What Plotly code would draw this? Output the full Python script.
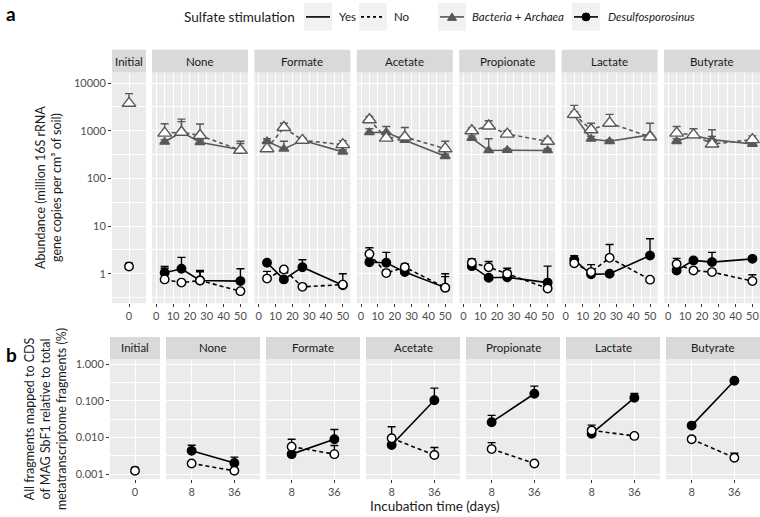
import plotly.graph_objects as go

W, H = 760, 517
FONT = "Lato"

treatments = ["None", "Formate", "Acetate", "Propionate", "Lactate", "Butyrate"]
days_a = [5, 15, 26, 50]
days_b = [8, 36]

# ---------- panel a: qPCR abundance (million 16S rRNA gene copies per cm3) ----------
initial_bac = 3760
initial_bac_up = 6000
initial_des = 1.42
initial_des_up = 1.66

bac_yes = [[580, 940, 570, 400], [600, 415, 630, 360], [920, 930, 630, 290],
           [700, 385, 390, 385], [2100, 670, 600, 820], [600, 795, 650, 525]]
bac_yes_up = [[650, 1750, 640, 540], [680, 600, 700, 400], [1100, 1230, 700, 320],
              [780, 680, 420, 420], [2500, 760, 650, 1440], [680, 1100, 760, 580]]
bac_no = [[890, 930, 795, 390], [420, 1170, 630, 510], [1700, 700, 740, 420],
          [1000, 1260, 850, 600], [2200, 1050, 1440, 740], [890, 820, 525, 650]]
bac_no_up = [[1400, 1550, 1380, 600], [470, 1440, 700, 620], [2000, 800, 1170, 600],
             [1150, 1620, 1000, 700], [3400, 1440, 2200, 820], [1230, 900, 1050, 780]]

des_yes = [[1.05, 1.27, 0.72, 0.70], [1.7, 0.76, 1.37, 0.57], [1.74, 1.7, 1.08, 0.51],
           [1.44, 0.82, 0.84, 0.65], [1.96, 0.97, 1.0, 2.4], [1.17, 1.9, 1.75, 2.05]]
des_yes_up = [[1.42, 2.2, 1.17, 1.27], [1.9, 0.85, 1.96, 0.62], [2.0, 2.8, 1.4, 1.0],
              [1.6, 0.9, 1.15, 1.44], [2.4, 1.05, 1.1, 5.4], [1.3, 2.1, 2.8, 2.2]]
des_no = [[0.76, 0.65, 0.72, 0.43], [0.79, 1.23, 0.53, 0.59], [2.6, 1.03, 1.37, 0.51],
          [1.7, 1.37, 1.0, 0.49], [1.66, 1.08, 2.15, 0.75], [1.6, 1.17, 1.08, 0.70]]
des_no_up = [[1.3, 0.7, 1.1, 0.47], [1.12, 1.35, 0.6, 1.0], [3.5, 1.2, 1.6, 0.87],
             [2.05, 1.8, 1.3, 0.55], [1.8, 1.55, 4.1, 0.8], [2.1, 1.3, 1.2, 0.95]]

# ---------- panel b: metatranscriptome fraction (%) ----------
initial_frac = 0.00123
initial_frac_up = 0.00152
frac_yes = [[0.0043, 0.0020], [0.0035, 0.0089], [0.0062, 0.103],
            [0.026, 0.155], [0.0126, 0.12], [0.021, 0.35]]
frac_yes_up = [[0.0061, 0.0029], [0.0040, 0.0165], [0.007, 0.22],
               [0.040, 0.25], [0.0216, 0.157], [0.023, 0.37]]
frac_no = [[0.00195, 0.00123], [0.0056, 0.0035], [0.0095, 0.0033],
           [0.0048, 0.00195], [0.0155, 0.011], [0.0089, 0.0028]]
frac_no_up = [[0.0021, 0.0013], [0.0089, 0.006], [0.0195, 0.0053],
              [0.0072, 0.0021], [0.018, 0.012], [0.0105, 0.0037]]

yticks_a = [1, 10, 100, 1000, 10000]
yticklabels_a = ["1", "10", "100", "1000", "10000"]
yticks_b = [0.001, 0.01, 0.1, 1]
yticklabels_b = ["0.001", "0.010", "0.100", "1.000"]
xticks_a = [0, 10, 20, 30, 40, 50]

GREY = "#595959"
BLACK = "#000000"
BG = "#ebebeb"
STRIP = "#d9d9d9"


def fx(x):
    return x / W


def fy(y):
    return 1 - y / H


fig = go.Figure()
layout = {}
shapes = []
annotations = []

# panel geometry in pixels
a_top, a_bot = 71, 303
a_strip = 48
b_top, b_bot = 359, 480
b_strip = 337
a_cols = [(112, 146)] + [(152 + 102.4 * i, 248 + 102.4 * i) for i in range(6)]
b_cols = [(110, 160)] + [(166 + 100 * i, 260 + 100 * i) for i in range(6)]
names = ["Initial"] + treatments
A_YR = [-0.62, 4.22]
B_YR = [-3.14, 0.14]


def err(vals, ups, color):
    return dict(type="data", symmetric=False,
                array=[u - v for u, v in zip(ups, vals)],
                arrayminus=[0] * len(vals), thickness=1.4, width=4, color=color)


def add_series(n, x, y, up, color, filled, dashed, sym, size):
    suffix = "" if n == 1 else str(n)
    fig.add_trace(go.Scatter(
        x=x, y=y, xaxis="x" + suffix, yaxis="y" + suffix,
        mode="lines+markers",
        line=dict(color=color, width=1.6, dash="4px,3px" if dashed else "solid"),
        marker=dict(symbol=sym, size=size,
                    color=color if filled else "white",
                    line=dict(color=color, width=1.4)),
        error_y=err(y, up, color), showlegend=False, hoverinfo="skip"))


def axis_cfg(n, xdom, ydom, xrange, yrange, xtickvals, xminor, ytickvals, yticktext,
             yminor, show_y):
    suffix = "" if n == 1 else str(n)
    xa = dict(
        domain=[fx(xdom[0]), fx(xdom[1])], anchor="y" + suffix, range=xrange,
        tickvals=xtickvals, ticktext=[str(v) for v in xtickvals],
        showgrid=True, gridcolor="white", gridwidth=1.1, zeroline=False,
        ticks="outside", ticklen=3, tickcolor="#333333", tickwidth=1,
        tickfont=dict(family=FONT, size=11, color="#4d4d4d"),
        showline=False, fixedrange=True)
    if xminor:
        xa["minor"] = dict(tickvals=xminor, showgrid=True, gridcolor="white",
                           gridwidth=0.55, ticks="")
    layout["xaxis" + suffix] = xa
    layout["yaxis" + suffix] = dict(
        domain=[fy(ydom[1]), fy(ydom[0])], anchor="x" + suffix, type="log",
        range=yrange, tickvals=ytickvals, ticktext=yticktext,
        showticklabels=show_y, ticks="outside" if show_y else "", ticklen=3,
        tickcolor="#333333", tickwidth=1,
        tickfont=dict(family=FONT, size=11, color="#4d4d4d"),
        showgrid=True, gridcolor="white", gridwidth=1.1, zeroline=False,
        showline=False, fixedrange=True,
        minor=dict(tickvals=yminor, showgrid=True, gridcolor="white", gridwidth=0.55,
                   ticks=""))


def strip(xdom, ytop, ybot, label):
    shapes.append(dict(type="rect", xref="paper", yref="paper",
                       x0=fx(xdom[0]), x1=fx(xdom[1]), y0=fy(ybot), y1=fy(ytop),
                       fillcolor=STRIP, line=dict(width=0), layer="below"))
    annotations.append(dict(xref="paper", yref="paper", x=fx((xdom[0] + xdom[1]) / 2),
                            y=fy((ytop + ybot) / 2), text=label, showarrow=False,
                            font=dict(family=FONT, size=11.5, color="#1a1a1a"),
                            xanchor="center", yanchor="middle"))


yminor_a = [10 ** (k + 0.5) for k in range(-1, 5)]
yminor_b = [10 ** (k + 0.5) for k in range(-4, 1)]

# ---- panel a subplots ----
for i in range(7):
    n = i + 1
    if i == 0:
        axis_cfg(n, a_cols[0], (a_top, a_bot), [-1, 1], A_YR, [0], None,
                 yticks_a, yticklabels_a, yminor_a, True)
        add_series(n, [0], [initial_bac], [initial_bac_up], GREY, False, True,
                   "triangle-up", 12)
        add_series(n, [0], [initial_des], [initial_des_up], BLACK, False, True,
                   "circle", 8.5)
    else:
        t = i - 1
        axis_cfg(n, a_cols[i], (a_top, a_bot), [-2.5, 54.5], A_YR, xticks_a,
                 [5, 15, 25, 35, 45], yticks_a, yticklabels_a, yminor_a, False)
        add_series(n, days_a, bac_yes[t], bac_yes_up[t], GREY, True, False,
                   "triangle-up", 8.5)
        add_series(n, days_a, bac_no[t], bac_no_up[t], GREY, False, True,
                   "triangle-up", 12)
        add_series(n, days_a, des_yes[t], des_yes_up[t], BLACK, True, False,
                   "circle", 8.5)
        add_series(n, days_a, des_no[t], des_no_up[t], BLACK, False, True,
                   "circle", 8.5)
    strip(a_cols[i], a_strip, a_top, names[i])

# ---- panel b subplots ----
for i in range(7):
    n = i + 8
    if i == 0:
        axis_cfg(n, b_cols[0], (b_top, b_bot), [-1, 1], B_YR, [0], None,
                 yticks_b, yticklabels_b, yminor_b, True)
        add_series(n, [0], [initial_frac], [initial_frac_up], BLACK, False, True,
                   "circle", 8.5)
    else:
        t = i - 1
        axis_cfg(n, b_cols[i], (b_top, b_bot), [-8.8, 52.8], B_YR, days_b, None,
                 yticks_b, yticklabels_b, yminor_b, False)
        add_series(n, days_b, frac_yes[t], frac_yes_up[t], BLACK, True, False,
                   "circle", 8.5)
        add_series(n, days_b, frac_no[t], frac_no_up[t], BLACK, False, True,
                   "circle", 8.5)
    strip(b_cols[i], b_strip, b_top, names[i])


# ---- legend (drawn manually) ----
def key_box(x0, x1):
    shapes.append(dict(type="rect", xref="paper", yref="paper", x0=fx(x0), x1=fx(x1),
                       y0=fy(29), y1=fy(1), fillcolor="#f2f2f2", line=dict(width=0)))


def key_line(x0, x1, color, dash, width=1.6):
    shapes.append(dict(type="line", xref="paper", yref="paper", x0=fx(x0), x1=fx(x1),
                       y0=fy(15), y1=fy(15), line=dict(color=color, width=width, dash=dash)))


def leg_text(x, text, size=11.5):
    annotations.append(dict(xref="paper", yref="paper", x=fx(x), y=fy(15), text=text,
                            showarrow=False, xanchor="left", yanchor="middle",
                            font=dict(family=FONT, size=size, color="#1a1a1a")))


leg_text(182, "Sulfate stimulation", 13.5)
key_box(304, 332)
key_line(306, 330, BLACK, "solid")
leg_text(337, "Yes")
key_box(359, 387)
key_line(361, 385, BLACK, "3px,3px")
leg_text(392, "No")
key_box(438, 466)
key_line(440, 464, GREY, "solid")
shapes.append(dict(type="path", xref="paper", yref="paper",
                   path="M {} {} L {} {} L {} {} Z".format(fx(447.5), fy(18.5), fx(456.5),
                                                          fy(18.5), fx(452), fy(11)),
                   fillcolor=GREY, line=dict(color=GREY, width=1)))
leg_text(470, "<i>Bacteria</i> + <i>Archaea</i>")
key_box(572, 600)
key_line(574, 598, BLACK, "solid")
shapes.append(dict(type="circle", xref="paper", yref="paper", x0=fx(582), x1=fx(590),
                   y0=fy(19), y1=fy(11), fillcolor=BLACK, line=dict(color=BLACK, width=1)))
leg_text(606, "<i>Desulfosporosinus</i>")

# ---- panel labels & axis titles ----
annotations.append(dict(xref="paper", yref="paper", x=fx(4), y=fy(12), text="<b>a</b>",
                        showarrow=False, xanchor="left", yanchor="middle",
                        font=dict(family=FONT, size=19, color="black")))
annotations.append(dict(xref="paper", yref="paper", x=fx(4), y=fy(355), text="<b>b</b>",
                        showarrow=False, xanchor="left", yanchor="middle",
                        font=dict(family=FONT, size=19, color="black")))
annotations.append(dict(xref="paper", yref="paper", x=fx(49), y=fy((a_top + a_bot) / 2),
                        text="Abundance (million 16S rRNA<br>gene copies per cm³ of soil)",
                        textangle=-90, showarrow=False, xanchor="center", yanchor="middle",
                        font=dict(family=FONT, size=12.5, color="#1a1a1a")))
annotations.append(dict(xref="paper", yref="paper", x=fx(46), y=fy((b_top + b_bot) / 2),
                        text="All fragments mapped to CDS<br>of MAG SbF1 relative to total"
                             "<br>metatranscriptome fragments (%)",
                        textangle=-90, showarrow=False, xanchor="center", yanchor="middle",
                        font=dict(family=FONT, size=12.5, color="#1a1a1a")))
annotations.append(dict(xref="paper", yref="paper", x=fx(435), y=fy(507),
                        text="Incubation time (days)", showarrow=False,
                        xanchor="center", yanchor="middle",
                        font=dict(family=FONT, size=13.5, color="#1a1a1a")))

fig.update_layout(**layout)
fig.update_layout(width=W, height=H, margin=dict(l=0, r=0, t=0, b=0),
                  paper_bgcolor="white", plot_bgcolor=BG, showlegend=False,
                  shapes=shapes, annotations=annotations,
                  font=dict(family=FONT, color="#1a1a1a"))

fig.write_html("out.html",
               config={"displayModeBar": False},
               post_script="document.body.style.margin='0';"
                           "document.body.style.padding='0';"
                           "document.body.style.overflow='hidden';")
